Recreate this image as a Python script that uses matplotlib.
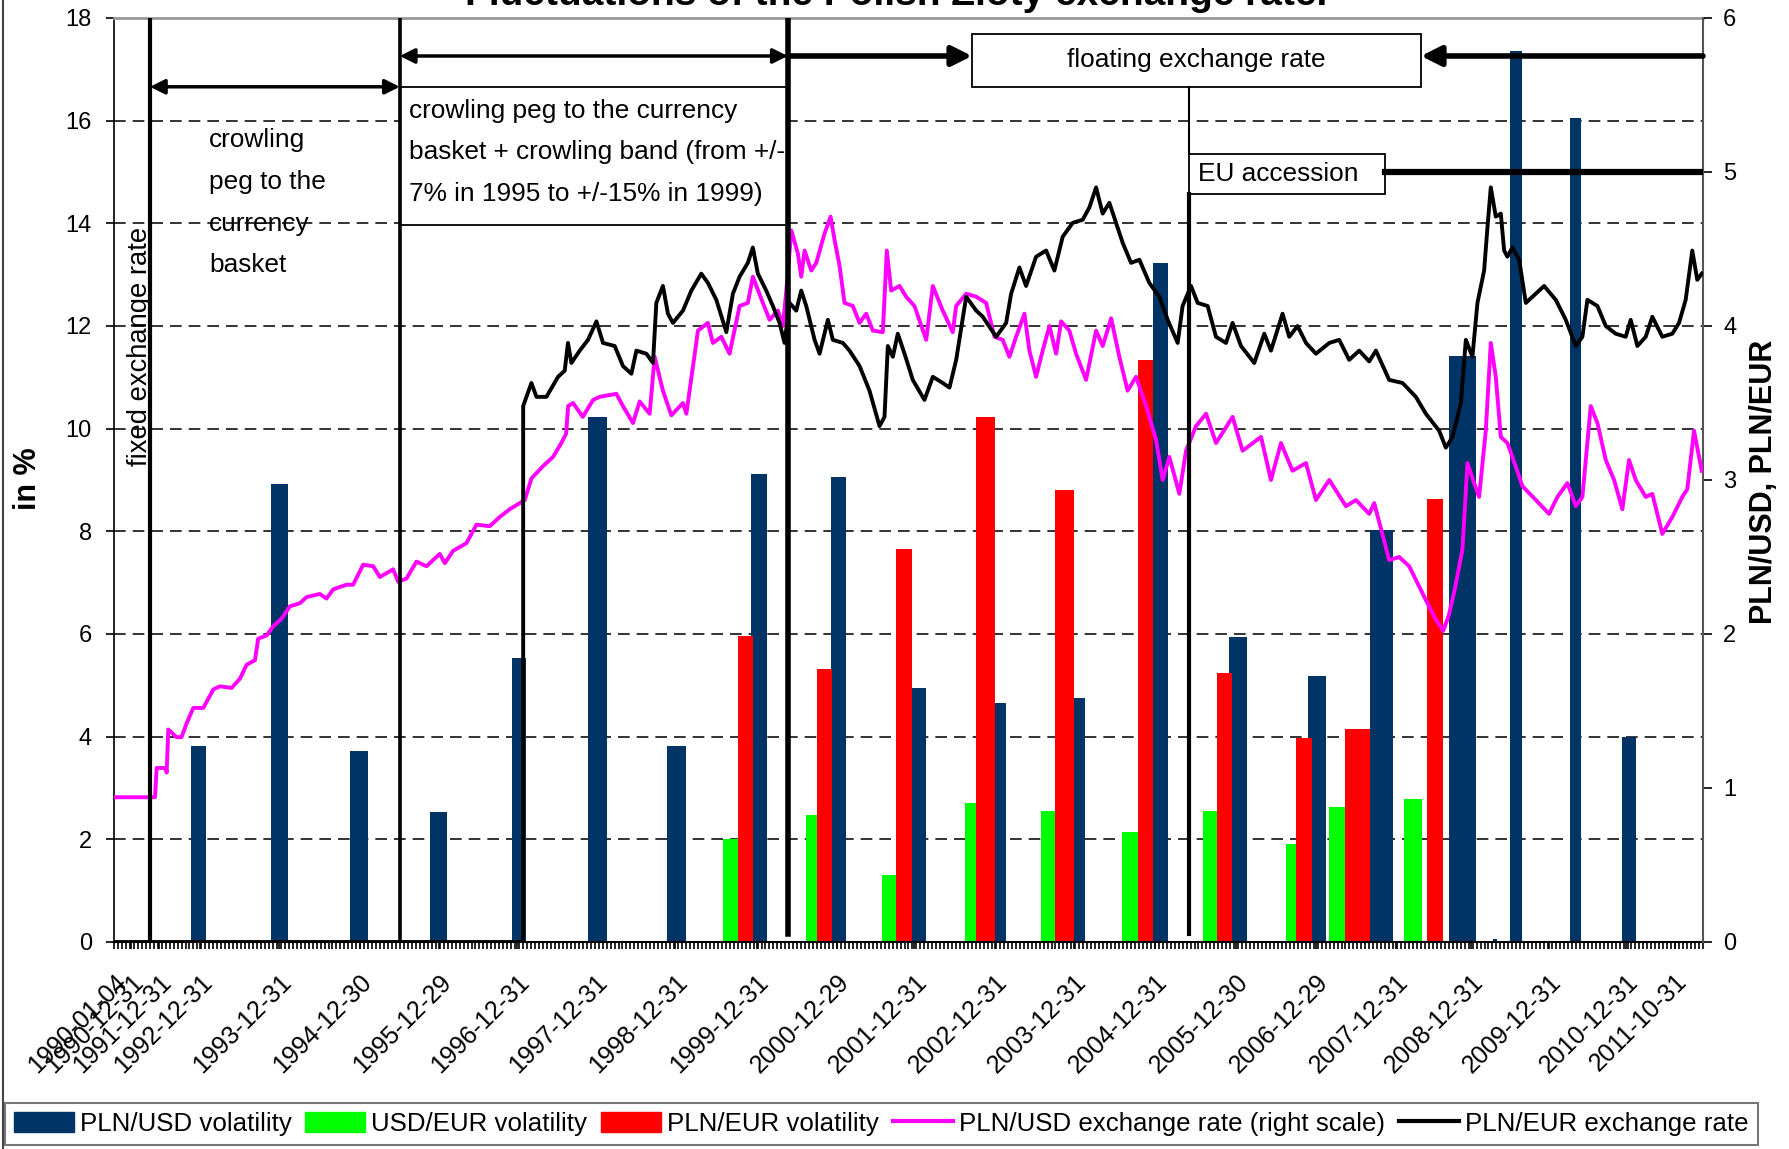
# plot.py
# Fluctuations of the Polish Zloty exchange rate: yearly volatility bars + daily rates.

import matplotlib
matplotlib.use("Agg")
import matplotlib.pyplot as plt
from matplotlib import font_manager
from matplotlib.patches import Patch, Rectangle
from matplotlib.lines import Line2D
from matplotlib.ticker import MultipleLocator

# ---------- fonts ----------
_names = {f.name for f in font_manager.fontManager.ttflist}
if "Liberation Sans Narrow" in _names:
    NARROW, K = "Liberation Sans Narrow", 1.0
else:
    NARROW, K = "Liberation Sans", 0.82
BOLD = "Liberation Sans"
plt.rcParams["font.family"] = [NARROW, "DejaVu Sans"]

# ---------- data ----------
# x = position on the chart's date axis (trading-day category axis, ~1 unit per year)
TICK_LABELS = ["1990-01-04", "1990-12-31", "1991-12-31", "1992-12-31", "1993-12-31",
               "1994-12-30", "1995-12-29", "1996-12-31", "1997-12-31", "1998-12-31",
               "1999-12-31", "2000-12-29", "2001-12-31", "2002-12-31", "2003-12-31",
               "2004-12-31", "2005-12-30", "2006-12-29", "2007-12-31", "2008-12-31",
               "2009-12-31", "2010-12-31", "2011-10-31"]
TICK_POS = [0.0, 0.214, 0.562, 1.082, 2.079, 3.09, 4.087, 5.075, 6.05, 7.062, 8.087,
            9.099, 10.075, 11.083, 12.082, 13.103, 14.124, 15.123, 16.137, 17.079,
            18.065, 19.028, 19.645]

# yearly volatility (in %)
PLNUSD_VOL_X = [1.063, 2.082, 3.084, 4.086, 5.101, 6.088, 7.075, 8.113, 9.119, 10.126,
                11.151, 12.157, 13.17, 14.151, 15.145, 15.956, 16.975, 17.384, 17.648,
                18.396, 19.07]
PLNUSD_VOL = [3.81, 8.93, 3.72, 2.54, 5.54, 10.23, 3.81, 9.12, 9.05, 4.94, 4.66, 4.75,
              13.22, 5.95, 5.18, 8.03, 11.42, 0.05, 17.35, 16.05, 3.99]
USDEUR_VOL_X = [7.755, 8.774, 9.761, 10.78, 11.761, 12.786, 13.799, 14.818, 15.396, 16.352]
USDEUR_VOL = [2.0, 2.48, 1.30, 2.70, 2.55, 2.15, 2.55, 1.91, 2.63, 2.78]
PLNEUR_VOL_X = [7.943, 8.943, 9.943, 10.969, 11.969, 12.987, 13.981, 14.981, 15.654, 16.629]
PLNEUR_VOL = [5.97, 5.31, 7.65, 10.22, 8.81, 11.33, 5.24, 3.97, 4.15, 8.63]

# daily exchange rates (right scale)
PLNUSD_X = [0, 0.516, 0.537, 0.65, 0.663, 0.683, 0.788, 0.85, 0.914, 0.998,
            1.124, 1.25, 1.333, 1.48, 1.585, 1.669, 1.774, 1.815, 1.92, 2.004,
            2.11, 2.214, 2.34, 2.424, 2.59, 2.675, 2.759, 2.927, 3.01, 3.136,
            3.262, 3.346, 3.513, 3.576, 3.681, 3.807, 3.933, 4.1, 4.164, 4.268,
            4.436, 4.562, 4.73, 4.855, 4.98, 5.107, 5.17, 5.254, 5.4, 5.526,
            5.63, 5.69, 5.716, 5.778, 5.9, 6.03, 6.113, 6.323, 6.406, 6.532,
            6.616, 6.742, 6.805, 6.909, 7.015, 7.161, 7.204, 7.35, 7.475, 7.538,
            7.644, 7.748, 7.874, 7.978, 8.041, 8.167, 8.252, 8.356, 8.419, 8.462,
            8.525, 8.608, 8.65, 8.692, 8.776, 8.839, 8.943, 9.019, 9.069, 9.132,
            9.195, 9.299, 9.384, 9.468, 9.551, 9.677, 9.727, 9.782, 9.887, 9.971,
            10.075, 10.223, 10.306, 10.431, 10.557, 10.6, 10.726, 10.852, 10.977, 11.082,
            11.186, 11.27, 11.355, 11.459, 11.522, 11.606, 11.689, 11.774, 11.858, 11.921,
            12.025, 12.109, 12.235, 12.361, 12.444, 12.55, 12.654, 12.758, 12.864, 12.99,
            13.116, 13.199, 13.283, 13.409, 13.493, 13.619, 13.745, 13.871, 14.079, 14.205,
            14.437, 14.562, 14.688, 14.834, 15.003, 15.128, 15.296, 15.506, 15.632, 15.799,
            15.862, 16.05, 16.176, 16.302, 16.512, 16.63, 16.73, 16.8, 16.88, 16.972,
            17.035, 17.119, 17.182, 17.266, 17.329, 17.392, 17.455, 17.538, 17.601, 17.727,
            17.896, 18.063, 18.167, 18.293, 18.399, 18.482, 18.587, 18.671, 18.776, 18.881,
            18.985, 19.069, 19.153, 19.279, 19.362, 19.488, 19.614, 19.739, 19.802, 19.887,
            19.95, 19.984]
PLNUSD = [0.94, 0.94, 1.13, 1.13, 1.10, 1.38, 1.33, 1.33, 1.42, 1.52,
          1.52, 1.64, 1.66, 1.65, 1.71, 1.80, 1.83, 1.97, 1.99, 2.05,
          2.10, 2.18, 2.20, 2.24, 2.26, 2.23, 2.29, 2.32, 2.32, 2.45,
          2.44, 2.37, 2.42, 2.34, 2.36, 2.47, 2.44, 2.52, 2.46, 2.54,
          2.59, 2.71, 2.70, 2.76, 2.81, 2.85, 2.87, 3.01, 3.09, 3.15,
          3.24, 3.30, 3.48, 3.50, 3.41, 3.52, 3.54, 3.56, 3.48, 3.37,
          3.51, 3.43, 3.80, 3.58, 3.42, 3.50, 3.43, 3.97, 4.02, 3.89,
          3.93, 3.82, 4.13, 4.15, 4.32, 4.15, 4.04, 4.10, 4.00, 4.23,
          4.62, 4.47, 4.32, 4.49, 4.36, 4.41, 4.60, 4.71, 4.56, 4.39,
          4.15, 4.13, 4.02, 4.08, 3.97, 3.96, 4.49, 4.23, 4.26, 4.19,
          4.13, 3.91, 4.26, 4.10, 3.96, 4.13, 4.21, 4.19, 4.15, 3.93,
          3.91, 3.80, 3.93, 4.08, 3.84, 3.67, 3.84, 4.00, 3.82, 4.03,
          3.97, 3.82, 3.65, 3.97, 3.87, 4.05, 3.80, 3.58, 3.67, 3.48,
          3.26, 3.00, 3.15, 2.91, 3.19, 3.35, 3.43, 3.24, 3.41, 3.19,
          3.28, 3.00, 3.24, 3.06, 3.11, 2.87, 3.00, 2.83, 2.87, 2.78,
          2.85, 2.48, 2.50, 2.44, 2.22, 2.10, 2.02, 2.12, 2.30, 2.55,
          3.11, 2.98, 2.89, 3.32, 3.89, 3.67, 3.28, 3.24, 3.15, 2.96,
          2.87, 2.78, 2.89, 2.98, 2.83, 2.89, 3.48, 3.37, 3.13, 3.00,
          2.81, 3.13, 3.00, 2.89, 2.91, 2.65, 2.76, 2.89, 2.94, 3.32,
          3.15, 3.06]

PLNEUR_X = [0, 5.15, 5.15, 5.254, 5.317, 5.443, 5.589, 5.673, 5.714, 5.757,
            5.862, 5.966, 6.072, 6.155, 6.302, 6.406, 6.512, 6.575, 6.701, 6.784,
            6.826, 6.909, 6.972, 7.035, 7.161, 7.267, 7.392, 7.475, 7.581, 7.707,
            7.79, 7.874, 7.978, 8.041, 8.104, 8.209, 8.293, 8.377, 8.44, 8.503,
            8.587, 8.65, 8.713, 8.818, 8.881, 8.985, 9.048, 9.174, 9.258, 9.384,
            9.509, 9.635, 9.698, 9.74, 9.803, 9.865, 9.95, 10.054, 10.201, 10.306,
            10.431, 10.516, 10.6, 10.726, 10.852, 10.935, 11.103, 11.229, 11.292, 11.396,
            11.48, 11.606, 11.732, 11.836, 11.941, 12.067, 12.192, 12.277, 12.361, 12.444,
            12.528, 12.612, 12.696, 12.801, 12.906, 13.031, 13.157, 13.262, 13.388, 13.45,
            13.556, 13.639, 13.765, 13.87, 13.996, 14.079, 14.185, 14.352, 14.478, 14.562,
            14.708, 14.792, 14.897, 15.003, 15.128, 15.296, 15.421, 15.547, 15.673, 15.799,
            15.883, 16.05, 16.218, 16.386, 16.512, 16.679, 16.763, 16.847, 16.952, 17.015,
            17.098, 17.161, 17.245, 17.287, 17.329, 17.392, 17.455, 17.497, 17.538, 17.601,
            17.686, 17.77, 17.896, 18.0, 18.147, 18.273, 18.399, 18.482, 18.545, 18.671,
            18.776, 18.901, 19.027, 19.09, 19.174, 19.279, 19.362, 19.488, 19.614, 19.698,
            19.782, 19.865, 19.928, 19.984]
PLNEUR = [0, 0, 3.48, 3.63, 3.54, 3.54, 3.67, 3.71, 3.89, 3.76,
          3.84, 3.91, 4.03, 3.89, 3.87, 3.74, 3.69, 3.84, 3.82, 3.76,
          4.15, 4.26, 4.08, 4.02, 4.10, 4.23, 4.34, 4.28, 4.17, 3.96,
          4.21, 4.32, 4.41, 4.51, 4.34, 4.23, 4.13, 4.02, 3.89, 4.15,
          4.10, 4.23, 4.13, 3.91, 3.82, 4.04, 3.91, 3.89, 3.84, 3.74,
          3.58, 3.35, 3.41, 3.87, 3.80, 3.95, 3.82, 3.65, 3.52, 3.67,
          3.63, 3.60, 3.78, 4.19, 4.10, 4.06, 3.93, 4.02, 4.21, 4.38,
          4.26, 4.45, 4.49, 4.36, 4.58, 4.67, 4.69, 4.77, 4.90, 4.73,
          4.80, 4.67, 4.54, 4.41, 4.43, 4.28, 4.19, 4.04, 3.89, 4.13,
          4.26, 4.15, 4.13, 3.93, 3.89, 4.02, 3.87, 3.76, 3.95, 3.84,
          4.08, 3.93, 4.00, 3.89, 3.82, 3.89, 3.91, 3.78, 3.84, 3.77,
          3.84, 3.65, 3.63, 3.54, 3.43, 3.32, 3.21, 3.28, 3.50, 3.91,
          3.80, 4.15, 4.36, 4.64, 4.90, 4.71, 4.73, 4.49, 4.45, 4.51,
          4.43, 4.15, 4.21, 4.26, 4.17, 4.04, 3.87, 3.93, 4.17, 4.13,
          4.00, 3.95, 3.93, 4.04, 3.87, 3.93, 4.06, 3.93, 3.95, 4.02,
          4.17, 4.49, 4.30, 4.34]

# regime change dates on the same axis
T_FIXED_END, T_BAND, T_FLOAT, T_EU = 0.453, 3.597, 8.48, 13.53

# ---------- style ----------
NAVY, GREEN, RED, MAGENTA = "#003366", "#00ff00", "#ff0000", "#ff00ff"
W_NAVY = [0.19, 0.22, 0.23, 0.22, 0.18, 0.24, 0.24, 0.2, 0.2, 0.18, 0.14, 0.14, 0.18,
          0.23, 0.23, 0.29, 0.34, 0.05, 0.15, 0.14, 0.18]
W_GREEN = [0.19, 0.14, 0.18, 0.15, 0.18, 0.21, 0.18, 0.13, 0.2, 0.23]
W_RED = [0.19, 0.2, 0.19, 0.23, 0.24, 0.19, 0.19, 0.2, 0.31, 0.2]
FS_ANN = 23 * K
LS_ANN = 1.93 if K < 1 else 1.45
FS_LEG = 22.7 * K
PX_LEG = FS_LEG * 100 / 72          # legend font size in pixels

W, H = 1790, 1149
fig = plt.figure(figsize=(W / 100, H / 100), dpi=100)
ax = fig.add_axes([114 / W, 1 - 942 / H, (1703 - 114) / W, (942 - 18) / H])

# gridlines (left scale)
ax.hlines(range(2, 17, 2), 0, 20, colors="#333333", linestyles=(0, (6, 3.6)),
          lw=1.4, zorder=1)

ax.bar(PLNUSD_VOL_X, PLNUSD_VOL, width=W_NAVY, color=NAVY, zorder=2)
ax.bar(USDEUR_VOL_X, USDEUR_VOL, width=W_GREEN, color=GREEN, zorder=2)
ax.bar(PLNEUR_VOL_X, PLNEUR_VOL, width=W_RED, color=RED, zorder=2)

ax.set_xlim(0, 20)
ax.set_ylim(0, 18)
ax.set_yticks(range(0, 19, 2))
ax.tick_params(axis="y", direction="out", length=6, width=1.2, pad=10, labelsize=17)
ax.set_xticks(TICK_POS)
ax.set_xticklabels(TICK_LABELS, rotation=45, ha="right", va="top",
                   rotation_mode="anchor", fontsize=18)
ax.xaxis.set_minor_locator(MultipleLocator(0.05))
ax.tick_params(axis="x", which="both", direction="out", length=5, width=1.2)
ax.tick_params(axis="x", which="major", pad=15)

ax.spines["top"].set_color("#999999")
ax.spines["top"].set_linewidth(2)
ax.spines["right"].set_visible(False)
ax.spines["left"].set_linewidth(1.2)
ax.spines["bottom"].set_linewidth(1.5)

# rates on the right scale
ax2 = ax.twinx()
ax2.plot(PLNUSD_X, PLNUSD, color=MAGENTA, lw=2.8, zorder=3)
ax2.plot(PLNEUR_X, PLNEUR, color="black", lw=2.8, zorder=3)
ax2.set_ylim(0, 6)
ax2.set_yticks(range(0, 7))
ax2.tick_params(axis="y", direction="out", length=6.5, width=1.2, pad=8, labelsize=17)
for s in ("top", "left", "bottom"):
    ax2.spines[s].set_visible(False)
ax2.spines["right"].set_color("#555555")
ax2.spines["right"].set_linewidth(1.5)


def r(v):
    # left-scale value (%) -> right-scale value
    return v / 3


# annotation boxes
ax2.add_patch(Rectangle((T_BAND, r(13.97)), T_FLOAT - T_BAND, r(16.66 - 13.97),
                        fc="white", ec="black", lw=1.3, zorder=4))
ax2.add_patch(Rectangle((10.8, r(16.66)), 16.45 - 10.8, r(17.69 - 16.66),
                        fc="white", ec="black", lw=1.3, zorder=4))
ax2.add_patch(Rectangle((T_EU, r(14.57)), 16.0 - T_EU, r(15.36 - 14.57),
                        fc="white", ec="black", lw=1.3, zorder=4))

# regime lines
ax2.plot([T_FIXED_END] * 2, [0, 6], color="black", lw=3, zorder=5)
ax2.plot([T_BAND] * 2, [0, 6], color="black", lw=2.6, zorder=5)
ax2.plot([T_FLOAT] * 2, [0.05, 6], color="black", lw=4, zorder=5)
ax2.plot([T_EU] * 2, [r(15.36), r(16.66)], color="black", lw=1.5, zorder=5)
ax2.plot([T_EU] * 2, [0.05, r(14.57)], color="black", lw=3, zorder=5)
ax2.plot([16.0, 20], [5, 5], color="black", lw=4.5, zorder=5)

arrow2 = dict(arrowstyle="<|-|>", color="black", lw=2.5, mutation_scale=22,
              shrinkA=0, shrinkB=0)
ax2.annotate("", xy=(T_BAND, r(16.66)), xytext=(T_FIXED_END, r(16.66)),
             arrowprops=arrow2, zorder=6)
ax2.annotate("", xy=(T_FLOAT, r(17.26)), xytext=(T_BAND, r(17.26)),
             arrowprops=arrow2, zorder=6)
arrow1 = dict(arrowstyle="-|>", color="black", lw=4, mutation_scale=30,
              shrinkA=0, shrinkB=0)
ax2.annotate("", xy=(10.8, r(17.26)), xytext=(T_FLOAT, r(17.26)),
             arrowprops=arrow1, zorder=6)
ax2.annotate("", xy=(16.45, r(17.26)), xytext=(20, r(17.26)),
             arrowprops=arrow1, zorder=6)

# annotation texts
ax2.text(1.2, r(14.4), "crowling\npeg to the\ncurrency\nbasket", fontsize=FS_ANN,
         linespacing=LS_ANN, ha="left", va="center", zorder=6)
ax2.text(3.71, r(15.38),
         "crowling peg to the currency\nbasket + crowling band (from +/-\n"
         "7% in 1995 to +/-15% in 1999)",
         fontsize=FS_ANN, linespacing=LS_ANN, ha="left", va="center", zorder=6)
ax2.text(13.625, r(17.18), "floating exchange rate", fontsize=FS_ANN,
         ha="center", va="center", zorder=6)
ax2.text(13.65, r(14.96), "EU accession", fontsize=FS_ANN, ha="left", va="center",
         zorder=6)
ax2.text(0.327, r(11.61), "fixed exchange rate", fontsize=24 * K, rotation=90,
         ha="center", va="center", zorder=6)

# titles and axis labels
fig.text(0.5008, 1 - 5 / H, "Fluctuations of the Polish Zloty exchange rate.",
         ha="center", va="baseline", fontsize=28, weight="bold", family=BOLD)
fig.text(28.5 / W, 1 - 479 / H, "in %", rotation=90, ha="center", va="center",
         fontsize=22, weight="bold", family=BOLD)
fig.text(1764 / W, 1 - 482 / H, "PLN/USD, PLN/EUR", rotation=90, ha="center",
         va="center", fontsize=22, weight="bold", family=BOLD)

# outer frame line on the left
fig.add_artist(Line2D([3 / W, 3 / W], [0, 1], color="#444444", lw=1.5))

# legend
handles = [Patch(color=NAVY), Patch(color=GREEN), Patch(color=RED),
           Line2D([], [], color=MAGENTA, lw=3), Line2D([], [], color="black", lw=3)]
labels = ["PLN/USD volatility", "USD/EUR volatility", "PLN/EUR volatility",
          "PLN/USD exchange rate (right scale)", "PLN/EUR exchange rate"]
leg = fig.legend(handles, labels, loc="upper left",
                 bbox_to_anchor=(4.6 / W, 1 - 1102.7 / H), ncol=5, frameon=True,
                 fancybox=False, edgecolor="#555555", borderpad=9 / PX_LEG,
                 handlelength=60 / PX_LEG, handleheight=21 / PX_LEG,
                 handletextpad=6 / PX_LEG, columnspacing=14 / PX_LEG,
                 borderaxespad=0, prop=dict(size=FS_LEG))
leg.get_frame().set_linewidth(1.5)

fig.savefig("out.png", dpi=100)
